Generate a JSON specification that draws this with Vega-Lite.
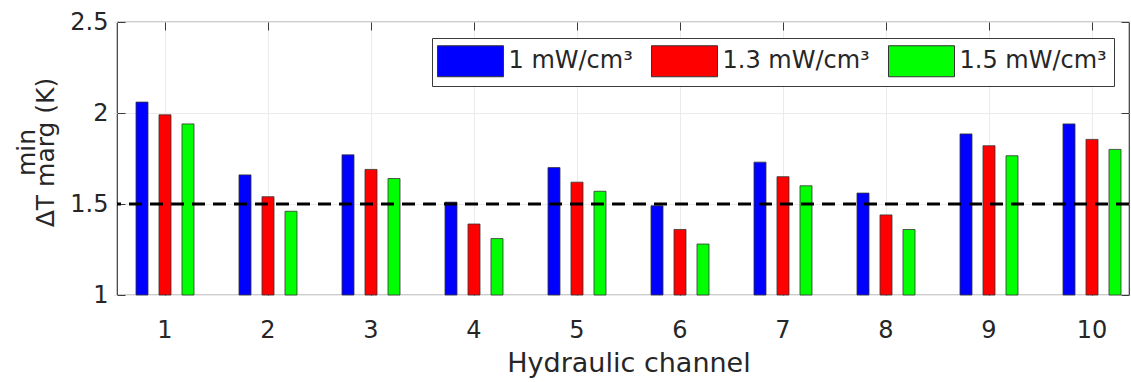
{
  "$schema": "https://vega.github.io/schema/vega-lite/v6.json",
  "width": 1012,
  "height": 273,
  "autosize": "none",
  "padding": {"left": 117, "top": 22, "right": 2, "bottom": 87},
  "background": "white",
  "config": {
    "font": "DejaVu Sans",
    "view": {"stroke": "#3a3a3a", "strokeWidth": 1.2},
    "axis": {
      "domain": false,
      "tickColor": "#3a3a3a",
      "tickWidth": 1,
      "labelColor": "#262626",
      "titleColor": "#262626",
      "labelFont": "DejaVu Sans",
      "titleFont": "DejaVu Sans",
      "titleFontWeight": "normal",
      "gridColor": "#ebebeb",
      "gridWidth": 1
    }
  },
  "datasets": {
    "bars": [
      {"channel": 1, "density": "1 mW/cm³", "value": 2.06},
      {"channel": 1, "density": "1.3 mW/cm³", "value": 1.99},
      {"channel": 1, "density": "1.5 mW/cm³", "value": 1.94},
      {"channel": 2, "density": "1 mW/cm³", "value": 1.66},
      {"channel": 2, "density": "1.3 mW/cm³", "value": 1.54},
      {"channel": 2, "density": "1.5 mW/cm³", "value": 1.46},
      {"channel": 3, "density": "1 mW/cm³", "value": 1.77},
      {"channel": 3, "density": "1.3 mW/cm³", "value": 1.69},
      {"channel": 3, "density": "1.5 mW/cm³", "value": 1.64},
      {"channel": 4, "density": "1 mW/cm³", "value": 1.51},
      {"channel": 4, "density": "1.3 mW/cm³", "value": 1.39},
      {"channel": 4, "density": "1.5 mW/cm³", "value": 1.31},
      {"channel": 5, "density": "1 mW/cm³", "value": 1.70},
      {"channel": 5, "density": "1.3 mW/cm³", "value": 1.62},
      {"channel": 5, "density": "1.5 mW/cm³", "value": 1.57},
      {"channel": 6, "density": "1 mW/cm³", "value": 1.49},
      {"channel": 6, "density": "1.3 mW/cm³", "value": 1.36},
      {"channel": 6, "density": "1.5 mW/cm³", "value": 1.28},
      {"channel": 7, "density": "1 mW/cm³", "value": 1.73},
      {"channel": 7, "density": "1.3 mW/cm³", "value": 1.65},
      {"channel": 7, "density": "1.5 mW/cm³", "value": 1.60},
      {"channel": 8, "density": "1 mW/cm³", "value": 1.56},
      {"channel": 8, "density": "1.3 mW/cm³", "value": 1.44},
      {"channel": 8, "density": "1.5 mW/cm³", "value": 1.36},
      {"channel": 9, "density": "1 mW/cm³", "value": 1.885},
      {"channel": 9, "density": "1.3 mW/cm³", "value": 1.82},
      {"channel": 9, "density": "1.5 mW/cm³", "value": 1.765},
      {"channel": 10, "density": "1 mW/cm³", "value": 1.94},
      {"channel": 10, "density": "1.3 mW/cm³", "value": 1.855},
      {"channel": 10, "density": "1.5 mW/cm³", "value": 1.80}
    ]
  },
  "layer": [
    {
      "data": {"name": "bars"},
      "mark": {"type": "bar", "stroke": "#333333", "strokeWidth": 0.8, "opacity": 1},
      "encoding": {
        "x": {
          "field": "channel",
          "type": "ordinal",
          "scale": {"range": [-3.5, 1026.5], "paddingInner": 0, "paddingOuter": 0},
          "axis": {
            "orient": "bottom",
            "title": "Hydraulic channel",
            "labelAngle": 0,
            "labelFontSize": 24,
            "titleFontSize": 27,
            "tickSize": -8,
            "labelPadding": 31,
            "titlePadding": 8,
            "grid": true
          }
        },
        "xOffset": {
          "field": "density",
          "type": "nominal",
          "sort": ["1 mW/cm³", "1.3 mW/cm³", "1.5 mW/cm³"],
          "scale": {"paddingInner": 0.478, "paddingOuter": 0.978}
        },
        "y": {
          "field": "value",
          "type": "quantitative",
          "scale": {"domain": [1, 2.5], "nice": false, "zero": false},
          "axis": {
            "orient": "left",
            "values": [1, 1.5, 2, 2.5],
            "format": "~g",
            "labelFontSize": 24,
            "tickSize": -8,
            "labelPadding": 17,
            "grid": true,
            "title": ["      min", "ΔT  marg  (K)"],
            "titleFontSize": 25,
            "titleLineHeight": 19,
            "titlePadding": 11,
            "titleY": 130
          }
        },
        "y2": {"datum": 1},
        "color": {
          "field": "density",
          "type": "nominal",
          "sort": ["1 mW/cm³", "1.3 mW/cm³", "1.5 mW/cm³"],
          "scale": {
            "domain": ["1 mW/cm³", "1.3 mW/cm³", "1.5 mW/cm³"],
            "range": ["#0000ff", "#ff0000", "#00ff00"]
          },
          "legend": {
            "orient": "none",
            "legendX": 315,
            "legendY": 16,
            "direction": "horizontal",
            "title": null,
            "symbolType": "M-2.13,-1H2.13V1H-2.13Z",
            "symbolSize": 961,
            "symbolStrokeColor": "#333333",
            "symbolStrokeWidth": 1,
            "symbolOpacity": 1,
            "symbolOffset": 15.5,
            "labelOffset": 22,
            "labelFontSize": 24,
            "labelFont": "DejaVu Sans",
            "labelColor": "#262626",
            "labelLimit": 400,
            "columnPadding": 16,
            "padding": 7,
            "strokeColor": "#3a3a3a",
            "fillColor": "white"
          }
        }
      }
    },
    {
      "data": {"values": [{"threshold": 1.5}]},
      "mark": {"type": "rule", "color": "#000000", "strokeWidth": 3, "strokeDash": [13, 8]},
      "encoding": {
        "y": {"field": "threshold", "type": "quantitative", "axis": null}
      }
    },
    {
      "data": {"name": "bars"},
      "mark": {"type": "bar", "opacity": 0},
      "encoding": {
        "x": {
          "field": "channel",
          "type": "ordinal",
          "axis": {"orient": "top", "labels": false, "title": null, "tickSize": -8, "grid": false}
        },
        "y": {
          "field": "value",
          "type": "quantitative",
          "axis": {"orient": "right", "labels": false, "title": null, "tickSize": -8, "grid": false, "values": [1, 1.5, 2, 2.5]}
        }
      }
    }
  ],
  "resolve": {"axis": {"x": "independent", "y": "independent"}}
}
